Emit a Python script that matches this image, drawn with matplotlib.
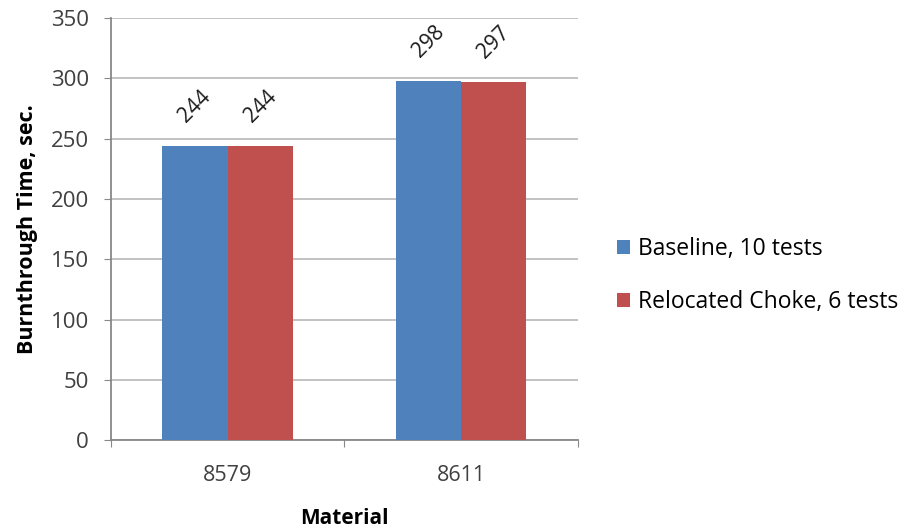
import numpy as np
import matplotlib.pyplot as plt

# burnthrough times per material, two configurations
materials = ["8579", "8611"]
baseline = [244, 298]
relocated = [244, 297]
series_names = ["Baseline, 10 tests", "Relocated Choke, 6 tests"]

plt.rcParams['font.family'] = ['Open Sans', 'DejaVu Sans']

fig = plt.figure(figsize=(9.10, 5.29), dpi=100)
ax = fig.add_axes([0.122, 0.168, 0.513, 0.798])

x = np.arange(len(materials))
w = 0.28
b1 = ax.bar(x - w/2, baseline, w, color="#4F81BD", label=series_names[0], zorder=3)
b2 = ax.bar(x + w/2, relocated, w, color="#C0504D", label=series_names[1], zorder=3)

#value labels above each bar, tilted
for bars in (b1, b2):
    for rect in bars:
        h = rect.get_height()
        ax.annotate("%d" % h, (rect.get_x() + rect.get_width()/2, h),
                    xytext=(0, 14), textcoords="offset points",
                    rotation=45, ha="center", va="bottom", fontsize=15,
                    color="#1a1a1a")

ax.set_xlim(-0.5, 1.5)
ax.set_ylim(0, 350)
ax.set_yticks(range(0, 351, 50))
ax.yaxis.grid(True, color="#BDBDBD", linewidth=1.3, zorder=0)

#category ticks at boundaries, labels centred
ax.set_xticks([-0.5, 0.5, 1.5])
ax.set_xticklabels([])
ax.set_xticks(x, minor=True)
ax.set_xticklabels(materials, minor=True, fontsize=15.5, color="#404040")
ax.tick_params(axis="x", which="minor", length=0, pad=18)
ax.tick_params(axis="x", which="major", length=5, color="#888888")
ax.tick_params(axis="y", length=5, color="#888888", labelsize=16, labelcolor="#404040", pad=11)

for s in ["top", "right"]:
    ax.spines[s].set_visible(False)
for s in ["left", "bottom"]:
    ax.spines[s].set_color("#888888")
    ax.spines[s].set_linewidth(1.3)

ax.set_xlabel("Material", fontsize=15, fontweight="bold", labelpad=16)
ax.set_ylabel("Burnthrough Time, sec.", fontsize=15.5, fontweight="bold", labelpad=9)

ax.legend(loc="center left", bbox_to_anchor=(1.06, 0.39), frameon=False,
          fontsize=16.5, handlelength=0.55, handleheight=0.55, handletextpad=0.35,
          labelspacing=1.25, borderpad=0)

fig.savefig("out.png", dpi=100)
